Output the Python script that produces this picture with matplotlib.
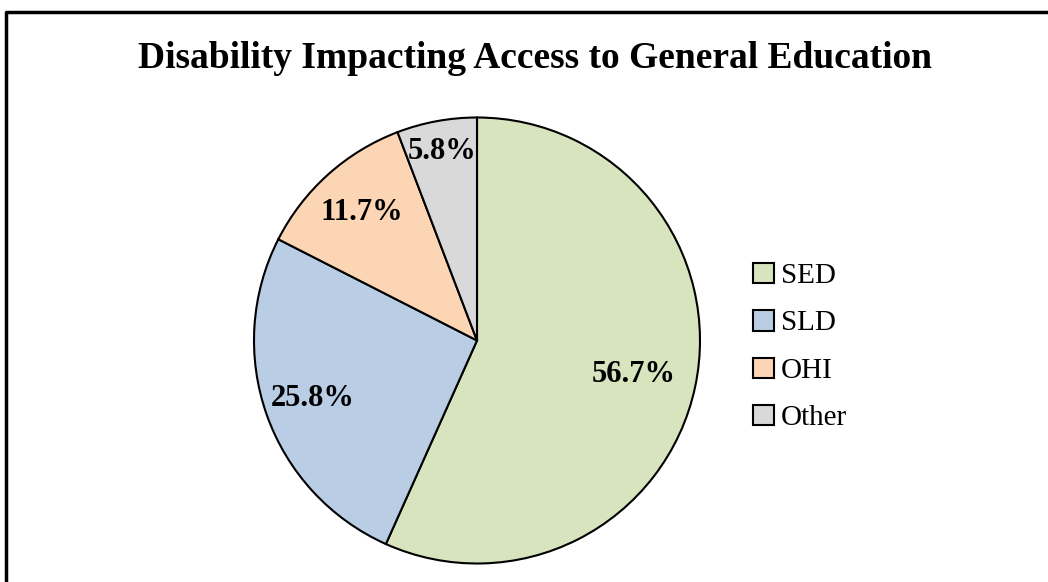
import matplotlib
matplotlib.use("Agg")
import matplotlib.pyplot as plt
from matplotlib.lines import Line2D
import numpy as np

categories = ["SED", "SLD", "OHI", "Other"]
shares = [56.7, 25.8, 11.7, 5.8]
colors = ["#d7e4bd", "#b9cde5", "#fcd5b5", "#d9d9d9"]
label_radius = [0.72, 0.78, 0.77, 0.86]

plt.rcParams['font.family'] = ['Liberation Serif', 'DejaVu Serif']

W, H = 1048, 582
fig = plt.figure(figsize=(W / 100, H / 100), dpi=100)

# pie placement in pixels: centre (477, 340.5), radius 223
cx, cy, r = 477, 340.5, 223
pad = 1.03
ax = fig.add_axes([(cx - r * pad) / W, (H - cy - r * pad) / H,
                   2 * r * pad / W, 2 * r * pad / H])

wedges, _ = ax.pie(shares, colors=colors, startangle=90, counterclock=False,
                   wedgeprops=dict(edgecolor="black", linewidth=1.5))
ax.set_xlim(-pad, pad)
ax.set_ylim(-pad, pad)
ax.set_aspect("equal")
ax.axis("off")

for w, val, rr in zip(wedges, shares, label_radius):
    th = np.deg2rad((w.theta1 + w.theta2) / 2)
    ax.text(rr * np.cos(th), rr * np.sin(th), f"{val:.1f}%",
            ha="center", va="center", fontsize=22, fontweight="bold")

fig.text(535 / W, 1 - 58 / H, "Disability Impacting Access to General Education",
         ha="center", va="center", fontsize=27, fontweight="bold")

handles = [plt.Rectangle((0, 0), 1, 1, facecolor=c, edgecolor="black", linewidth=1.5)
           for c in colors]
fig.legend(handles, categories, loc="center left",
           bbox_to_anchor=(727 / W, 1 - 347 / H), frameon=False,
           fontsize=21, handlelength=0.7, handleheight=0.7,
           handletextpad=0.25, labelspacing=0.72)

# outer frame (top and left edges visible)
fig.add_artist(Line2D([6 / W, 6 / W, 1.0], [0.0, 1 - 12 / H, 1 - 12 / H],
                      color="black", linewidth=2.5, transform=fig.transFigure))

fig.savefig("out.png", dpi=100)
